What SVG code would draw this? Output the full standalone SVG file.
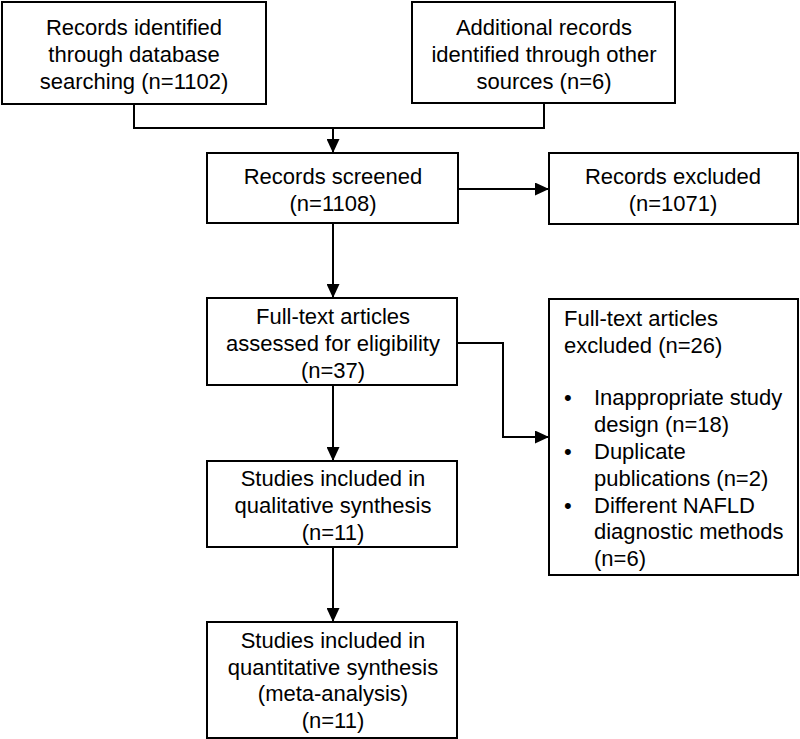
<svg xmlns="http://www.w3.org/2000/svg" width="800" height="739" viewBox="0 0 800 739">
<style>
.box{fill:#fff;stroke:#000;stroke-width:2}
.t{font-family:"Liberation Sans",Arial,sans-serif;font-size:22px;fill:#000}
.c{text-anchor:middle}
.ln{fill:none;stroke:#000;stroke-width:2}
</style>
<defs>
<marker id="ah" markerWidth="14" markerHeight="13" refX="14" refY="6.5" orient="auto" markerUnits="userSpaceOnUse">
<path d="M0,0 L14,6.5 L0,13 Z" fill="#000"/>
</marker>
</defs>
<rect width="800" height="739" fill="#fff"/>
<g id="connectors">
<path class="ln" d="M134,104 V128 H544 V103"/>
<path class="ln" d="M333,128 V153" marker-end="url(#ah)"/>
<path class="ln" d="M458,189 H549" marker-end="url(#ah)"/>
<path class="ln" d="M333,223 V298" marker-end="url(#ah)"/>
<path class="ln" d="M457,343 H503 V437 H549" marker-end="url(#ah)"/>
<path class="ln" d="M333,385 V461" marker-end="url(#ah)"/>
<path class="ln" d="M333,547 V622" marker-end="url(#ah)"/>
</g>
<g id="n1">
<rect class="box" x="2" y="2" width="264" height="102"/>
<text class="t c" x="134" y="35">Records identified</text>
<text class="t c" x="134" y="62">through database</text>
<text class="t c" x="134" y="89">searching (n=1102)</text>
</g>
<g id="n2">
<rect class="box" x="412" y="2" width="263" height="101"/>
<text class="t c" x="544" y="35">Additional records</text>
<text class="t c" x="544" y="62">identified through other</text>
<text class="t c" x="544" y="89">sources (n=6)</text>
</g>
<g id="n3">
<rect class="box" x="207" y="153" width="251" height="70"/>
<text class="t c" x="333" y="184">Records screened</text>
<text class="t c" x="333" y="211">(n=1108)</text>
</g>
<g id="n4">
<rect class="box" x="549" y="153" width="249" height="71"/>
<text class="t c" x="673" y="184">Records excluded</text>
<text class="t c" x="673" y="211">(n=1071)</text>
</g>
<g id="n5">
<rect class="box" x="207" y="298" width="250" height="87"/>
<text class="t c" x="333" y="324">Full-text articles</text>
<text class="t c" x="333" y="351">assessed for eligibility</text>
<text class="t c" x="333" y="378">(n=37)</text>
</g>
<g id="n6">
<rect class="box" x="549" y="299" width="249" height="276"/>
<text class="t" x="564" y="326">Full-text articles</text>
<text class="t" x="564" y="353">excluded (n=26)</text>
<text class="t" x="564" y="405">•</text>
<text class="t" x="594" y="405">Inappropriate study</text>
<text class="t" x="594" y="432">design (n=18)</text>
<text class="t" x="564" y="459">•</text>
<text class="t" x="594" y="459">Duplicate</text>
<text class="t" x="594" y="486">publications (n=2)</text>
<text class="t" x="564" y="513">•</text>
<text class="t" x="594" y="513">Different NAFLD</text>
<text class="t" x="594" y="539">diagnostic methods</text>
<text class="t" x="594" y="566">(n=6)</text>
</g>
<g id="n7">
<rect class="box" x="207" y="461" width="250" height="86"/>
<text class="t c" x="333" y="486">Studies included in</text>
<text class="t c" x="333" y="513">qualitative synthesis</text>
<text class="t c" x="333" y="540">(n=11)</text>
</g>
<g id="n8">
<rect class="box" x="207" y="622" width="250" height="116"/>
<text class="t c" x="333" y="648">Studies included in</text>
<text class="t c" x="333" y="675">quantitative synthesis</text>
<text class="t c" x="333" y="701">(meta-analysis)</text>
<text class="t c" x="333" y="728">(n=11)</text>
</g>
</svg>
